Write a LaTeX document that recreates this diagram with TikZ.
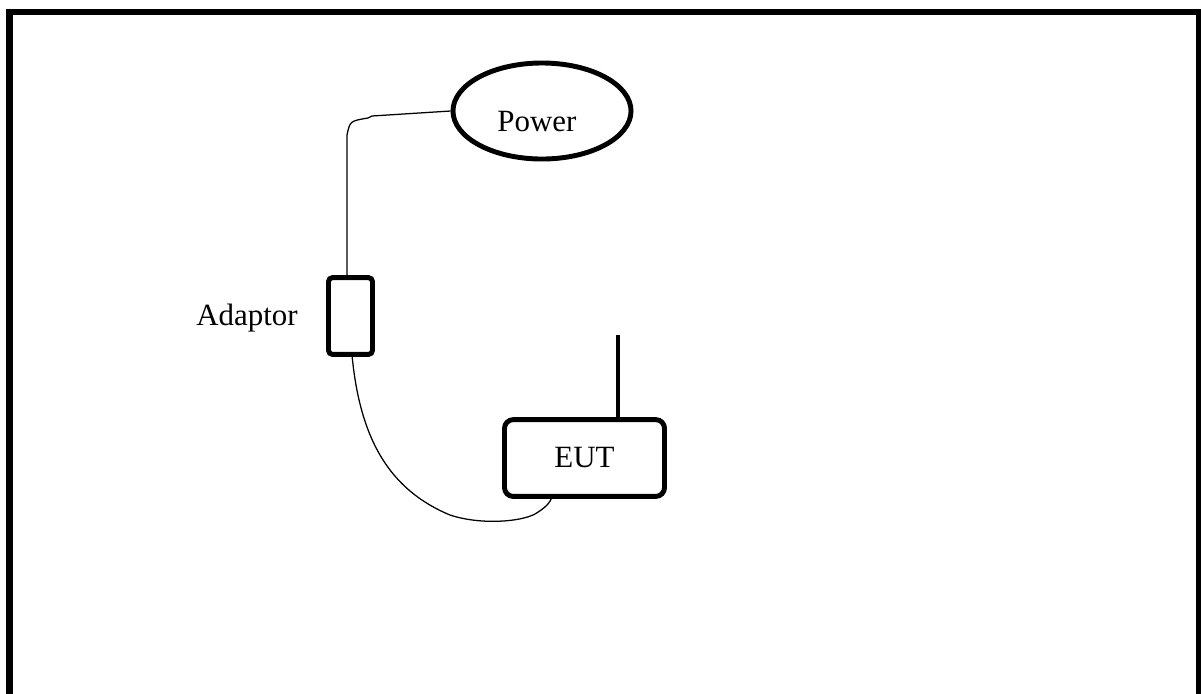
\documentclass[tikz,border=0pt]{standalone}
\usepackage{fontspec}
\setmainfont{Liberation Serif}
\usetikzlibrary{shapes.geometric}
\usetikzlibrary{calc}

\begin{document}
\begin{tikzpicture}[x=0.025cm,y=-0.025cm,
    every node/.style={font=\fontsize{22}{26}\selectfont},
    part/.style={draw,line width=3.5pt,inner sep=0pt},
    wire/.style={line width=0.9pt}]
      \useasboundingbox (0,0) rectangle (1201,693);
      % frame (runs off the bottom)
      \draw [line width=4.8pt] (9.5,720) -- (9.5,12) -- (1199.5,12) -- (1199.5,720);
      \node [part,ellipse,minimum width=4.45cm,minimum height=2.4cm] (pw) at (542,111) {};
      \node (pwt) at (537,122) {Power};
      \node [part,rounded corners=0.1cm,minimum width=1.1cm,minimum height=1.92cm] (ad) at (350.5,316) {};
      \node (adt) at (247,318) {Adaptor};
      \node [part,rounded corners=0.22cm,minimum width=4cm,minimum height=1.92cm] (eut) at (584.5,458) {EUT};
      \coordinate (ant) at (618,335);
      \coordinate (plug) at (552,497);
      \draw [wire] (pw.west) -- (372,116) -- (368,118) .. controls (350,121) .. (347,135) -- (347,277);
      \draw [wire] (352,355) .. controls (360,440) and (390,490) .. (450,515)
                   .. controls (480,525) and (520,522) .. (535,514)
                   .. controls (545,508) and (550,503) .. (plug);
      \draw [line width=2.9pt] (eut.north -| ant) -- (ant);
    \end{tikzpicture}
\end{document}
